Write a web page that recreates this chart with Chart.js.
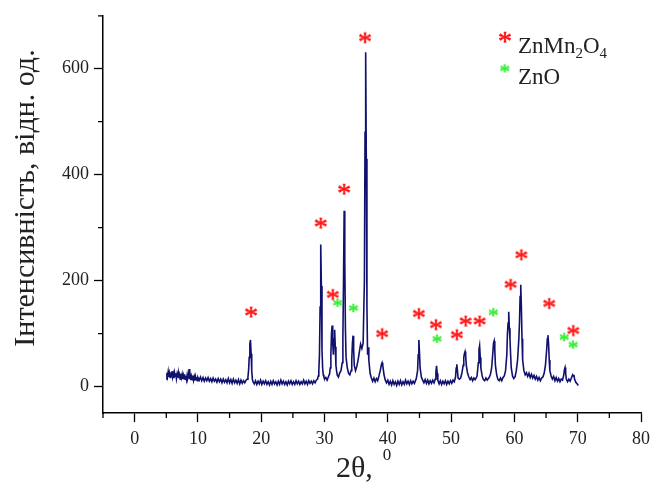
<!DOCTYPE html>
<html>
<head>
<meta charset="utf-8">
<script src="https://cdn.jsdelivr.net/npm/chart.js@4.4.1/dist/chart.umd.min.js"></script>
<style>
  html, body { margin: 0; padding: 0; background: #fff; }
</style>
</head>
<body>
<canvas id="xrd" width="656" height="492"></canvas>
<script>
// XRD scan, [2theta, intensity]
const scanLow = [
  [5.0,14],[5.1,26],[5.2,19],[5.3,28],[5.4,18],[5.5,25],[5.6,17],[5.7,27],[5.8,20],[5.9,29],
  [6.0,18],[6.1,24],[6.2,16],[6.3,26],[6.4,19],[6.5,25],[6.6,15],[6.7,23],[6.8,17],[6.9,26],
  [7.0,16],[7.1,22],[7.2,14],[7.3,24],[7.4,17],[7.5,23],[7.6,14],[7.7,21],[7.8,15],[7.9,23],
  [8.0,14],[8.1,20],[8.2,13],[8.3,22],[8.4,15],[8.5,19],[8.6,33],[8.7,14],[8.8,20],[8.9,12],
  [9.0,19],[9.1,13],[9.2,21],[9.3,12],[9.4,18],[9.5,11],[9.6,19],[9.7,13],[9.8,18],[9.9,11],
  [10.0,17],[10.2,12],[10.4,18],[10.6,11],[10.8,17],[11.0,10],[11.2,16],[11.4,11],[11.6,17],[11.8,10],
  [12.0,15],[12.2,9],[12.4,16],[12.6,10],[12.8,14],[13.0,8],[13.2,15],[13.4,9],[13.6,14],[13.8,7],
  [14.0,14],[14.2,8],[14.4,13],[14.6,7],[14.8,15],[15.0,7],[15.2,13],[15.4,6],[15.6,14],[15.8,7],
  [16.0,12],[16.2,6],[16.4,13],[16.6,5],[16.8,12],[17.0,6],[17.2,11],[17.4,7],[17.6,12],[17.8,14],
  [17.9,18],[18.0,30],[18.1,55],[18.2,80],[18.3,88],[18.4,62],[18.5,30],[18.6,14],[18.7,9],
  [18.9,5],[19.1,11],[19.3,4],[19.5,10],[19.7,5],[19.9,12],[20.1,4],[20.3,10],[20.5,5],[20.7,11],
  [20.9,4],[21.1,9],[21.3,3],[21.5,10],[21.7,4],[21.9,11],[22.1,5],[22.3,9],[22.5,3],[22.7,10],
  [22.9,4],[23.1,12],[23.3,5],[23.5,10],[23.7,4],[23.9,9],[24.1,3],[24.3,10],[24.5,5],[24.7,11],
  [24.9,4],[25.1,9],[25.3,4],[25.5,11],[25.7,5],[25.9,10],[26.1,4],[26.3,9],[26.5,5],[26.7,12],
  [26.9,5],[27.1,10],[27.3,4],[27.5,11],[27.7,6],[27.9,10],[28.1,5],[28.3,11],[28.5,7],[28.7,12],
  [28.9,14]
];

const scanMid = [
  [29.0,20],[29.1,30],[29.2,60],[29.3,150],[29.4,268],[29.5,190],[29.6,70],[29.7,35],[29.8,22],[29.9,18],
  [30.0,14],[30.2,17],[30.4,12],[30.6,18],[30.8,24],[30.9,35],[31.0,60],[31.1,100],[31.2,115],[31.3,80],
  [31.4,60],[31.5,90],[31.6,107],[31.7,75],[31.8,40],[31.9,30],[32.0,22],[32.2,18],[32.4,26],[32.6,30],
  [32.8,45],[32.9,90],[33.0,200],[33.1,332],[33.2,240],[33.3,110],[33.4,55],[33.6,35],[33.8,25],[34.0,22],
  [34.2,30],[34.3,50],[34.4,80],[34.5,96],[34.6,70],[34.7,40],[34.9,30],[35.1,38],[35.3,50],[35.5,65],
  [35.7,80],[35.9,72],[36.1,82],[36.3,200],[36.4,480],[36.5,631],[36.6,430],[36.7,150],[36.8,60],[36.9,74],
  [37.0,50],[37.2,25],[37.4,16],[37.6,10],[37.8,16],[38.0,9],[38.2,15],[38.4,11],[38.6,20],[38.8,30],
  [39.0,42],[39.1,45],[39.2,40],[39.4,22],[39.6,12],[39.8,7],[40.0,12],[40.2,4],[40.4,10],[40.6,3],
  [40.8,11],[41.0,4],[41.2,9],[41.4,2],[41.6,10],[41.8,4],[42.0,11],[42.2,3],[42.4,9],[42.6,4],
  [42.8,12],[43.0,5],[43.2,10],[43.4,4],[43.6,11],[43.8,5],[44.0,10],[44.2,6],[44.4,12],[44.5,15],
  [44.7,30],[44.8,60],[44.9,88],[45.0,65],[45.1,35],[45.3,18],[45.5,12],[45.7,7],[45.9,13],[46.1,6],
  [46.3,12],[46.5,5],[46.7,11],[46.9,6],[47.1,12],[47.3,7],[47.5,14],[47.6,28],[47.7,39],[47.8,25],
  [47.9,12],[48.1,5],[48.3,11],[48.5,4],[48.7,10],[48.9,5],[49.1,11],[49.3,4],[49.5,10],[49.7,5],
  [49.9,11],[50.1,6],[50.3,12],[50.5,9],[50.7,18],[50.8,35],[50.9,42],[51.0,30],[51.1,16],[51.3,14],
  [51.5,16],[51.7,25],[51.9,40],[52.0,55],[52.1,62],[52.2,66],[52.3,58],[52.4,40],[52.6,25],[52.8,18],
  [53.0,13],[53.2,17],[53.4,11],[53.6,16],[53.8,13],[54.0,17]
];

const scanHigh = [
  [54.1,20],[54.3,45],[54.4,70],[54.5,77],[54.6,55],[54.7,35],[54.9,20],[55.1,13],[55.3,11],[55.5,16],
  [55.7,12],[56.0,17],[56.2,22],[56.4,35],[56.6,65],[56.7,82],[56.8,86],[56.9,70],[57.0,40],[57.2,22],
  [57.4,13],[57.6,11],[57.8,16],[58.0,11],[58.2,17],[58.4,20],[58.6,30],[58.8,60],[58.9,100],[59.0,120],
  [59.1,141],[59.2,110],[59.3,90],[59.4,60],[59.5,35],[59.7,20],[59.9,15],[60.1,18],[60.3,30],[60.5,50],
  [60.7,90],[60.8,120],[60.9,170],[61.0,192],[61.1,150],[61.2,90],[61.3,50],[61.5,30],[61.7,22],[61.9,26],
  [62.1,19],[62.3,25],[62.5,17],[62.7,23],[62.9,16],[63.1,21],[63.3,14],[63.5,19],[63.7,12],[63.9,17],
  [64.1,11],[64.3,16],[64.5,18],[64.7,25],[64.9,40],[65.1,70],[65.2,90],[65.3,97],[65.4,80],[65.5,50],
  [65.6,30],[65.8,20],[66.0,14],[66.2,19],[66.4,11],[66.6,17],[66.8,10],[67.0,15],[67.2,9],[67.4,14],
  [67.6,12],[67.8,22],[67.9,32],[68.0,36],[68.1,25],[68.2,14],[68.4,9],[68.6,14],[68.8,10],[69.0,16],
  [69.2,22],[69.3,20],[69.4,22],[69.5,14],[69.7,8],[69.9,5],[70.1,2]
];

// phase markers (2theta, height of the asterisk)
const spinelMarks = [
  [18.4,141],[29.4,309],[31.3,174],[33.1,373],[36.4,659],[39.1,100],[44.9,138],[47.6,117],
  [50.9,98],[52.3,124],[54.5,124],[59.4,193],[61.1,249],[65.5,157],[69.3,106]
];
const zincOxideMarks = [
  [32.1,159],[34.6,149],[47.8,91],[56.7,141],[67.9,94],[69.3,80]
];

const xTicks = { min: -5, max: 80, step: 5, labelEvery: 10 };
const yTicks = { min: -50, max: 700, step: 100, labelEvery: 200 };

const NAVY = "#10106e";
const RED = "#ff1010";
const GREEN = "#33ee33";
const SERIF = '"Liberation Serif", "Times New Roman", serif';

const toXY = (arr) => arr.map((p) => ({ x: p[0], y: p[1] }));

// asterisk glyph as a point image
function asterisk(color, size) {
  const c = document.createElement("canvas");
  c.width = size;
  c.height = size;
  const g = c.getContext("2d");
  g.font = size + "px " + SERIF;
  g.fillStyle = color;
  g.strokeStyle = color;
  g.lineWidth = 0.6;
  const m = g.measureText("*");
  const w = m.actualBoundingBoxLeft + m.actualBoundingBoxRight;
  const h = m.actualBoundingBoxAscent + m.actualBoundingBoxDescent;
  const tx = (size - w) / 2 + m.actualBoundingBoxLeft;
  const ty = (size - h) / 2 + m.actualBoundingBoxAscent;
  g.fillText("*", tx, ty);
  g.strokeText("*", tx, ty);
  return c;
}

const redStar = asterisk(RED, 28);
const greenStar = asterisk(GREEN, 21);

const isMajor = (v, every) => Math.abs(v % every) < 1e-9;

const decor = {
  id: "decor",
  afterDraw(chart) {
    const { ctx, chartArea, scales } = chart;
    const xs = scales.x, ys = scales.y;
    ctx.save();

    // minor ticks
    ctx.strokeStyle = "#000";
    ctx.lineWidth = 1.3;
    ctx.beginPath();
    xs.ticks.forEach((t) => {
      if (isMajor(t.value, xTicks.labelEvery)) return;
      const px = xs.getPixelForValue(t.value);
      ctx.moveTo(px, chartArea.bottom);
      ctx.lineTo(px, chartArea.bottom + 5);
    });
    ys.ticks.forEach((t) => {
      if (t.value < 0 || isMajor(t.value, yTicks.labelEvery)) return;
      const py = ys.getPixelForValue(t.value);
      ctx.moveTo(chartArea.left, py);
      ctx.lineTo(chartArea.left - 5, py);
    });
    ctx.stroke();

    ctx.fillStyle = "#222";
    ctx.textBaseline = "alphabetic";

    // y title
    ctx.save();
    ctx.translate(34, 198);
    ctx.rotate(-Math.PI / 2);
    ctx.font = "30px " + SERIF;
    ctx.textAlign = "center";
    ctx.fillText("Інтенсивність, відн. од.", 0, 0);
    ctx.restore();

    // x title: 2θ, with superscript 0
    ctx.textAlign = "left";
    ctx.font = "30px " + SERIF;
    const main = "2θ,";
    const mw = ctx.measureText(main).width;
    const x0 = 336;
    ctx.fillText(main, x0, 477);
    ctx.font = "17px " + SERIF;
    ctx.fillText("0", x0 + mw + 10, 460);

    // legend
    const lx = 505;
    const rows = [
      { img: redStar, parts: [["ZnMn", 0], ["2", 1], ["O", 0], ["4", 1]], y: 53 },
      { img: greenStar, parts: [["ZnO", 0]], y: 84 }
    ];
    rows.forEach((r) => {
      ctx.drawImage(r.img, lx - r.img.width / 2, r.y - 16 - r.img.height / 2);
      let cx = lx + 13;
      r.parts.forEach(([txt, sub]) => {
        ctx.font = (sub ? "15px " : "23px ") + SERIF;
        ctx.fillText(txt, cx, r.y + (sub ? 5 : 0));
        cx += ctx.measureText(txt).width;
      });
    });

    ctx.restore();
  }
};

new Chart(document.getElementById("xrd"), {
  type: "line",
  data: {
    datasets: [
      {
        label: "XRD",
        data: toXY([...scanLow, ...scanMid, ...scanHigh]),
        borderColor: NAVY,
        borderWidth: 1.6,
        pointRadius: 0,
        tension: 0,
        order: 2
      },
      {
        label: "ZnMn2O4",
        type: "scatter",
        data: toXY(spinelMarks),
        pointStyle: redStar,
        pointRadius: 6,
        showLine: false,
        order: 1
      },
      {
        label: "ZnO",
        type: "scatter",
        data: toXY(zincOxideMarks),
        pointStyle: greenStar,
        pointRadius: 5,
        showLine: false,
        order: 1
      }
    ]
  },
  options: {
    responsive: false,
    animation: false,
    layout: { padding: { left: 0, right: 13, top: 15, bottom: 0 } },
    plugins: { legend: { display: false }, tooltip: { enabled: false } },
    scales: {
      x: {
        type: "linear",
        min: xTicks.min,
        max: xTicks.max,
        afterFit: (s) => { s.height = 79; },
        border: { display: true, color: "#000", width: 1.5 },
        grid: {
          drawOnChartArea: false,
          tickLength: 9,
          tickWidth: 1.3,
          tickColor: (c) => (c.tick && isMajor(c.tick.value, xTicks.labelEvery) ? "#000" : "transparent")
        },
        ticks: {
          stepSize: xTicks.step,
          autoSkip: false,
          maxRotation: 0,
          padding: 6,
          color: "#222",
          font: { family: SERIF, size: 18 },
          callback: (v) => (isMajor(v, xTicks.labelEvery) ? v : "")
        }
      },
      y: {
        type: "linear",
        min: yTicks.min,
        max: yTicks.max,
        afterFit: (s) => { s.width = 103; },
        border: { display: true, color: "#000", width: 1.5 },
        grid: {
          drawOnChartArea: false,
          tickLength: 9,
          tickWidth: 1.3,
          tickColor: (c) => (c.tick && c.tick.value >= 0 && isMajor(c.tick.value, yTicks.labelEvery) ? "#000" : "transparent")
        },
        ticks: {
          stepSize: yTicks.step,
          autoSkip: false,
          padding: 5,
          color: "#222",
          font: { family: SERIF, size: 18 },
          callback: (v) => (v >= 0 && isMajor(v, yTicks.labelEvery) ? v : "")
        }
      }
    }
  },
  plugins: [decor]
});
</script>
</body>
</html>
